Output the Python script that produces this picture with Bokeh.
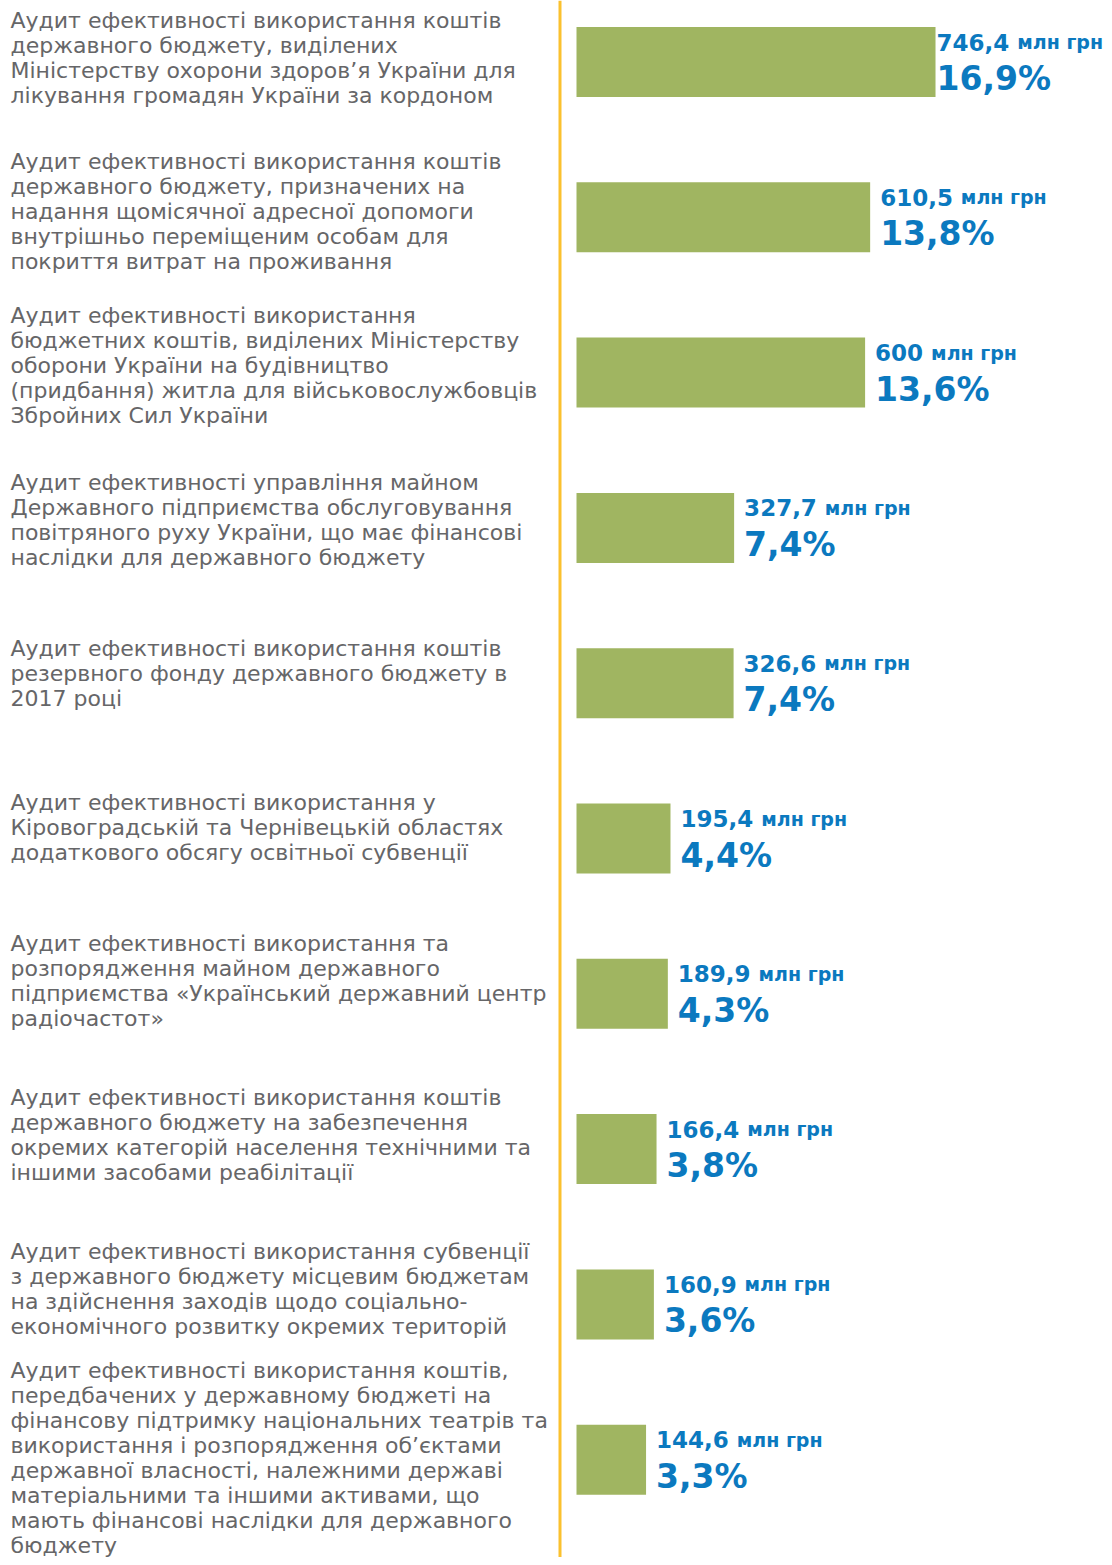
from bokeh.plotting import figure
from bokeh.models import ColumnDataSource, Range1d, Span
from bokeh.core.properties import value
from bokeh.embed import file_html
from bokeh.resources import INLINE

# ---------------- data ----------------
labels = [
    ["Аудит ефективності використання коштів", "державного бюджету, виділених",
     "Міністерству охорони здоров’я України для", "лікування громадян України за кордоном"],
    ["Аудит ефективності використання коштів", "державного бюджету, призначених на",
     "надання щомісячної адресної допомоги", "внутрішньо переміщеним особам для",
     "покриття витрат на проживання"],
    ["Аудит ефективності використання", "бюджетних коштів, виділених Міністерству",
     "оборони України на будівництво", "(придбання) житла для військовослужбовців",
     "Збройних Сил України"],
    ["Аудит ефективності управління майном", "Державного підприємства обслуговування",
     "повітряного руху України, що має фінансові", "наслідки для державного бюджету"],
    ["Аудит ефективності використання коштів", "резервного фонду державного бюджету в",
     "2017 році"],
    ["Аудит ефективності використання у", "Кіровоградській та Чернівецькій областях",
     "додаткового обсягу освітньої субвенції"],
    ["Аудит ефективності використання та", "розпорядження майном державного",
     "підприємства «Український державний центр", "радіочастот»"],
    ["Аудит ефективності використання коштів", "державного бюджету на забезпечення",
     "окремих категорій населення технічними та", "іншими засобами реабілітації"],
    ["Аудит ефективності використання субвенції", "з державного бюджету місцевим бюджетам",
     "на здійснення заходів щодо соціально-", "економічного розвитку окремих територій"],
    ["Аудит ефективності використання коштів,", "передбачених у державному бюджеті на",
     "фінансову підтримку національних театрів та", "використання і розпорядження об’єктами",
     "державної власності, належними державі", "матеріальними та іншими активами, що",
     "мають фінансові наслідки для державного", "бюджету"],
]
amounts = [746.4, 610.5, 600, 327.7, 326.6, 195.4, 189.9, 166.4, 160.9, 144.6]
shares = ["16,9%", "13,8%", "13,6%", "7,4%", "7,4%", "4,4%", "4,3%", "3,8%", "3,6%", "3,3%"]
unit = "млн грн"

# ---------------- layout ----------------
W, H = 1104, 1557
PX = 0.481      # pixels per unit of value
PY = 155.3      # pixels per bar row
X0 = 576        # pixel position of zero
Y0 = 61.5       # pixel position of first bar centre
LPY = 153.9     # pixels per label row (label column)
LY0 = 57.5      # pixel position of first label block centre
LINE_H = 25
MIN_GAP = 44    # min distance between last line of one label and first of next
GREEN = "#a0b561"
BLUE = "#0b79bf"
GREY = "#666668"
GOLD = "#fbc12e"

p = figure(width=W, height=H,
           x_range=Range1d(-X0 / PX, (W - X0) / PX),
           y_range=Range1d((H - Y0) / PY, -Y0 / PY),
           x_axis_location=None, y_axis_location=None,
           output_backend="svg", toolbar_location=None, min_border=0)
p.extra_y_ranges = {"labels": Range1d((H - LY0) / LPY, -LY0 / LPY)}
p.grid.visible = False
p.outline_line_color = None
p.background_fill_color = "white"
p.border_fill_color = "white"

rows = list(range(len(amounts)))
src = ColumnDataSource(dict(y=rows, amount=amounts))
p.hbar(y="y", left=0, right="amount", height=70 / PY, source=src,
       fill_color=GREEN, line_color=None)

p.add_layout(Span(location=(559.5 - X0) / PX, dimension="height",
                  line_color=GOLD, line_width=3))

# category labels (one text item per line), blocks pushed down if they would crowd
lx, ly, lt = [], [], []
prev_last = None
for i, lines in enumerate(labels):
    n = len(lines)
    first = -(n - 1) / 2 * LINE_H           # px offset of first line from row centre
    shift = 0.0
    if prev_last is not None:
        need = prev_last + MIN_GAP           # in label-row pixel coordinates
        have = i * LPY + first
        shift = max(0.0, need - have)
    for k, s in enumerate(lines):
        lx.append(-X0 / PX + 10 / PX)
        ly.append(i + (first + k * LINE_H + shift) / LPY)
        lt.append(s)
    prev_last = i * LPY + first + (n - 1) * LINE_H + shift
p.text(x=lx, y=ly, text=lt, text_font=value("DejaVu Sans"), text_font_size="22px",
       text_color=GREY, text_align="left", text_baseline="middle",
       y_range_name="labels")

# value labels
cw = {d: 16.0 for d in "0123456789"}
cw[","] = 8.7
num_txt, num_x, num_y, unit_x, pct_x, pct_y = [], [], [], [], [], []
for i, a in enumerate(amounts):
    t = f"{a:g}".replace(".", ",")
    off = 1 if a == max(amounts) else 10
    wnum = sum(cw.get(c, 16.0) for c in t)
    num_txt.append(t)
    num_x.append(a + off / PX)
    num_y.append(i - 20 / PY)
    unit_x.append(a + (off + wnum + 8) / PX)
    pct_x.append(a + off / PX)
    pct_y.append(i + 16.5 / PY)

p.text(x=num_x, y=num_y, text=num_txt, text_font=value("DejaVu Sans"),
       text_font_style="bold", text_font_size="23px", text_color=BLUE,
       text_align="left", text_baseline="alphabetic")
p.text(x=unit_x, y=num_y, text=[unit] * len(amounts), text_font=value("DejaVu Sans"),
       text_font_style="bold", text_font_size="19px", text_color=BLUE,
       text_align="left", text_baseline="alphabetic")
p.text(x=pct_x, y=pct_y, text=shares, text_font=value("DejaVu Sans"),
       text_font_style="bold", text_font_size="33px", text_color=BLUE,
       text_align="left", text_baseline="alphabetic")

open("out.html", "w").write(file_html(p, INLINE))
